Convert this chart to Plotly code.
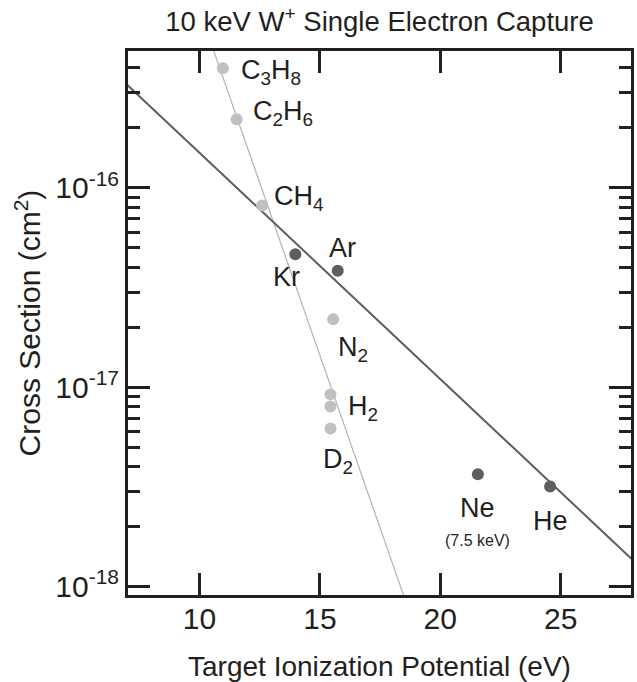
import numpy as np
import plotly.graph_objects as go

# ---- data ----
light_names = ["C3H8", "C2H6", "CH4", "N2", "H2", "H2", "D2"]
light_ip = [10.97, 11.54, 12.60, 15.55, 15.44, 15.44, 15.44]
light_xs = [3.99e-16, 2.21e-16, 8.15e-17, 2.19e-17, 9.2e-18, 8.0e-18, 6.2e-18]

dark_names = ["Kr", "Ar", "Ne", "He"]
dark_ip = [13.98, 15.74, 21.56, 24.56]
dark_xs = [4.65e-17, 3.84e-17, 3.66e-18, 3.17e-18]

# fitted trend lines (end points)
dark_fit_ip = [7.0, 28.0]
dark_fit_xs = [3.29e-16, 1.355e-18]
light_fit_ip = [10.5, 18.6]
light_fit_xs = [5.23e-16, 8.17e-19]

x_ticks = [10, 15, 20, 25]
y_ticks = [1e-18, 1e-17, 1e-16]
y_tick_text = ["10<sup>-18</sup>", "10<sup>-17</sup>", "10<sup>-16</sup>"]
y_minor = [k * 10.0 ** d for d in range(-19, -15) for k in range(2, 10)]

# ---- labels: (text, anchor point series, index, xshift, yshift, xanchor, size) ----
INK = "#231f20"
FONT = "Liberation Sans"
labels = [
    ("C<sub>3</sub>H<sub>8</sub>", "light", 0, 16, -4, "left", 27),
    ("C<sub>2</sub>H<sub>6</sub>", "light", 1, 14, 6, "left", 27),
    ("CH<sub>4</sub>", "light", 2, 10, 8, "left", 27),
    ("N<sub>2</sub>", "light", 3, 3, -30, "left", 27),
    ("H<sub>2</sub>", "light", 4, 15, -14, "left", 27),
    ("D<sub>2</sub>", "light", 6, -10, -32, "left", 27),
    ("Kr", "dark", 0, -9, -23, "center", 27),
    ("Ar", "dark", 1, 5, 23, "center", 27),
    ("Ne", "dark", 2, 0, -34, "center", 27),
    ("(7.5 keV)", "dark", 2, 0, -66, "center", 16),
    ("He", "dark", 3, 0, -34, "center", 27),
]

fig = go.Figure()
fig.add_trace(go.Scatter(x=light_fit_ip, y=light_fit_xs, mode="lines",
                         line=dict(color="#b4b4b4", width=1.2), hoverinfo="skip"))
fig.add_trace(go.Scatter(x=dark_fit_ip, y=dark_fit_xs, mode="lines",
                         line=dict(color="#5c5c5c", width=2), hoverinfo="skip"))
fig.add_trace(go.Scatter(x=light_ip, y=light_xs, mode="markers", text=light_names,
                         marker=dict(color="#c0c0c0", size=12, line=dict(width=0))))
fig.add_trace(go.Scatter(x=dark_ip, y=dark_xs, mode="markers", text=dark_names,
                         marker=dict(color="#5e5e5e", size=12, line=dict(width=0))))

series = {"light": (light_ip, light_xs), "dark": (dark_ip, dark_xs)}
for text, s, i, dx, dy, xa, size in labels:
    xs, ys = series[s]
    fig.add_annotation(x=xs[i], y=np.log10(ys[i]), xref="x", yref="y", text=text,
                       showarrow=False, xanchor=xa, yanchor="middle",
                       xshift=dx, yshift=dy, font=dict(family=FONT, size=size, color=INK))

axis_common = dict(showline=True, linewidth=3, linecolor=INK, mirror="ticks",
                   ticks="inside", tickwidth=3, tickcolor=INK, ticklen=22,
                   showgrid=False, zeroline=False,
                   tickfont=dict(family=FONT, size=30, color=INK))

fig.update_xaxes(range=[7.03, 27.92], tickmode="array", tickvals=x_ticks,
                 ticklabelstandoff=-5,
                 title=dict(text="Target Ionization Potential (eV)", standoff=25,
                            font=dict(family=FONT, size=28, color=INK)),
                 **axis_common)
fig.update_yaxes(type="log", range=[-18.043, -15.313], tickmode="array",
                 tickvals=y_ticks, ticktext=y_tick_text,
                 minor=dict(tickmode="array", tickvals=y_minor, ticks="inside",
                            ticklen=12, tickwidth=3, tickcolor=INK, showgrid=False),
                 title=dict(text="Cross Section (cm<sup>2</sup>)", standoff=6,
                            font=dict(family=FONT, size=30, color=INK)),
                 **axis_common)

fig.update_layout(
    width=637, height=682,
    margin=dict(l=128, r=6, t=51, b=87, autoexpand=False),
    paper_bgcolor="white", plot_bgcolor="white",
    showlegend=False,
    title=dict(text="10 keV W<sup>+</sup> Single Electron Capture",
               x=0.5, xref="paper", xanchor="center",
               y=0.968, yref="container", yanchor="middle",
               font=dict(family=FONT, size=27.5, color=INK)),
)

fig.write_html("out.html")
